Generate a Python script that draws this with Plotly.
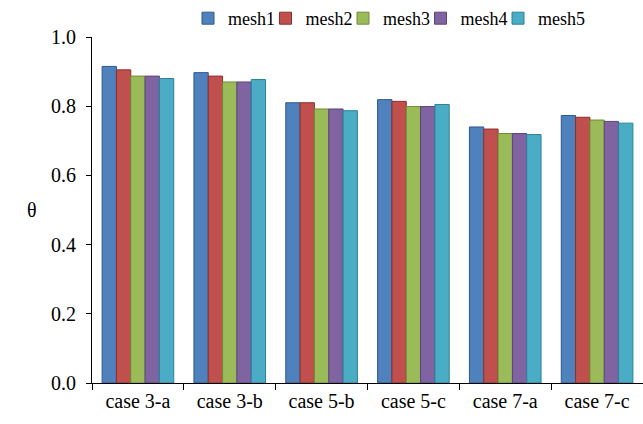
import plotly.graph_objects as go

categories = ["case 3-a", "case 3-b", "case 5-b", "case 5-c", "case 7-a", "case 7-c"]
series_names = ["mesh1", "mesh2", "mesh3", "mesh4", "mesh5"]
mesh1 = [0.915, 0.897, 0.810, 0.819, 0.740, 0.773]
mesh2 = [0.905, 0.887, 0.810, 0.814, 0.734, 0.768]
mesh3 = [0.887, 0.870, 0.792, 0.799, 0.721, 0.760]
mesh4 = [0.887, 0.870, 0.792, 0.799, 0.721, 0.756]
mesh5 = [0.880, 0.877, 0.787, 0.805, 0.718, 0.751]
tick_vals = [0.0, 0.2, 0.4, 0.6, 0.8, 1.0]

colors = ["#4F81BD", "#C0504D", "#9BBB59", "#8064A2", "#4BACC6"]
edges = ["#2C5A8F", "#8E2E2B", "#6E8C38", "#5A4579", "#2B8098"]

font_family = "Liberation Serif"
W, H = 643, 424

fig = go.Figure()
legend_layouts = {}
for i, (name, vals, c, e) in enumerate(zip(series_names, [mesh1, mesh2, mesh3, mesh4, mesh5], colors, edges)):
    lg = "legend" if i == 0 else f"legend{i + 1}"
    fig.add_trace(go.Bar(x=categories, y=vals, name=name, legend=lg,
                         marker=dict(color=c, line=dict(color=e, width=1))))
    legend_layouts[lg] = dict(
        orientation="h", xref="container", yref="container",
        x=(188 + 77.5 * i) / W, xanchor="left", y=1.0, yanchor="top",
        font=dict(size=18, family=font_family), itemwidth=30,
        bgcolor="rgba(0,0,0,0)")

fig.update_layout(
    width=W, height=H,
    margin=dict(l=92, r=0, t=37, b=41, autoexpand=False),
    paper_bgcolor="white", plot_bgcolor="white",
    barmode="group", bargap=0.22, bargroupgap=0,
    font=dict(family=font_family, size=20, color="black"),
    showlegend=True,
    **legend_layouts,
)
fig.update_xaxes(showline=True, linecolor="black", linewidth=1, ticks="outside",
                 tickson="boundaries", ticklen=6, tickcolor="black", showgrid=False,
                 tickfont=dict(size=20, family=font_family))
fig.update_yaxes(range=[0, 1.0], tickvals=tick_vals, tickformat=".1f", showline=True,
                 linecolor="black", linewidth=1, ticks="outside", ticklen=5,
                 tickcolor="black", showgrid=False, zeroline=False,
                 ticklabelstandoff=6, tickfont=dict(size=20, family=font_family))
fig.add_annotation(text="θ", xref="paper", yref="paper", x=-0.109, y=0.5,
                   xanchor="center", yanchor="middle", showarrow=False,
                   font=dict(size=20, family=font_family))
fig.write_html("out.html", config={"displayModeBar": False},
               post_script="document.body.style.margin='0';document.body.style.padding='0';")
